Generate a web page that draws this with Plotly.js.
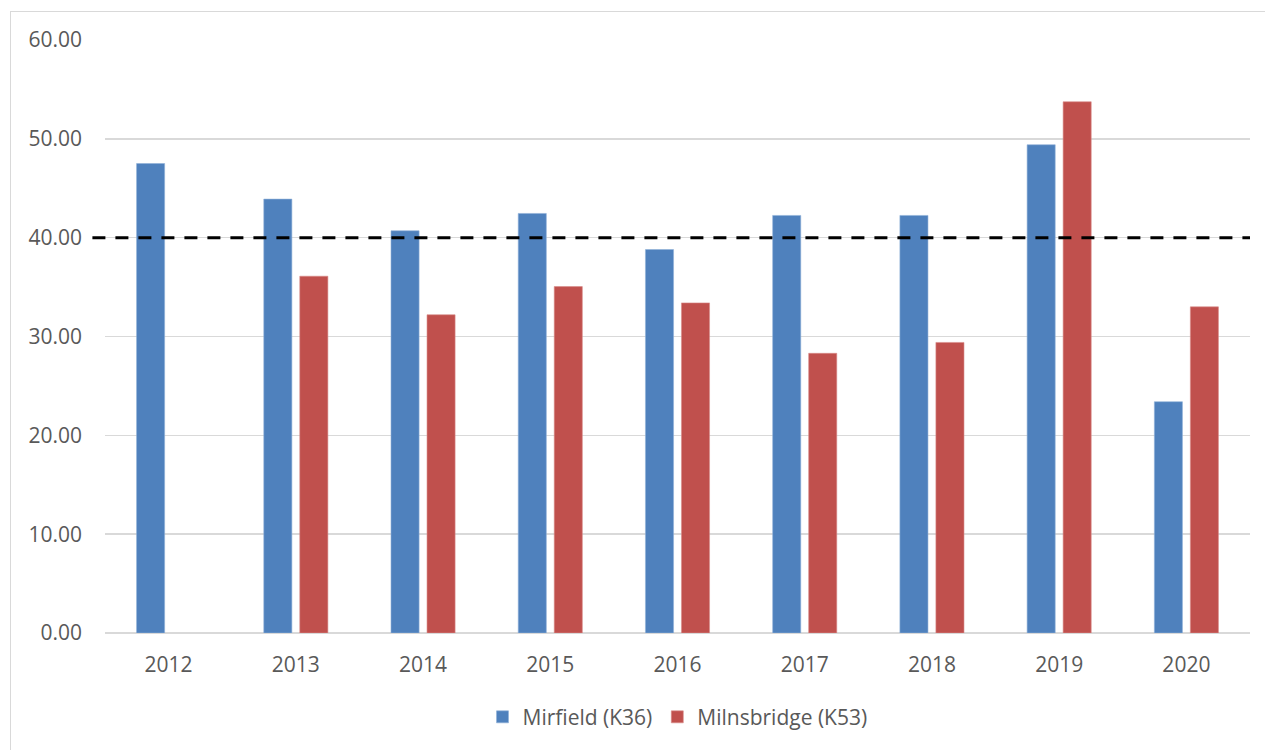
<!DOCTYPE html>
<html>
<head>
<meta charset="utf-8">
<script src="https://cdn.plot.ly/plotly-3.0.1.min.js"></script>
<style>
html,body{margin:0;padding:0;background:#fff;overflow:hidden;}
#wrap{position:relative;width:1265px;height:750px;}
#frame{position:absolute;left:10px;top:11px;width:1270px;height:760px;border:1.5px solid #d9d9d9;box-sizing:border-box;pointer-events:none;z-index:5;}
#chart{position:absolute;left:0;top:0;width:1265px;height:750px;}
</style>
</head>
<body>
<div id="wrap"><div id="chart"></div><div id="frame"></div></div>
<script>
var years = ['2012','2013','2014','2015','2016','2017','2018','2019','2020'];
var mirfield = [47.5, 43.9, 40.7, 42.45, 38.8, 42.25, 42.25, 49.4, 23.4];
var milnsbridge = [null, 36.1, 32.2, 35.05, 33.4, 28.3, 29.4, 53.75, 33.0];
var threshold = 40;
var yTicks = [0, 10, 20, 30, 40, 50, 60];

var fontFam = 'Open Sans, Noto Sans, sans-serif';
var traces = [
  {type:'bar', name:'Mirfield (K36)', x:years, y:mirfield, marker:{color:'#4F81BD', line:{color:'#8fb0d8', width:0.6}}},
  {type:'bar', name:'Milnsbridge (K53)', x:years, y:milnsbridge, marker:{color:'#C0504D', line:{color:'#d98c8a', width:0.6}}}
];
var layout = {
  width:1265, height:750,
  margin:{l:105, r:15, t:40, b:117},
  paper_bgcolor:'#fff', plot_bgcolor:'#fff',
  barmode:'group', bargap:0.434, bargroupgap:0.22,
  font:{family:fontFam, color:'#595959', size:21},
  showlegend:true,
  legend:{orientation:'h', x:0.5, xanchor:'center', y:-0.142, yanchor:'middle', font:{size:21, color:'#595959'}, itemwidth:20, tracegroupgap:0},
  xaxis:{type:'category', showgrid:false, showline:false, zeroline:false, ticks:'', tickfont:{size:21, color:'#595959'}, ticklabelstandoff:17, fixedrange:true},
  yaxis:{range:[0,60], tickvals:yTicks, tickformat:'.2f', showgrid:true, gridcolor:'#d9d9d9', gridwidth:1.6, zeroline:true, zerolinecolor:'#d9d9d9', zerolinewidth:2, showline:false, ticks:'', tickfont:{size:21, color:'#595959'}, ticklabelstandoff:22, fixedrange:true},
  shapes:[{type:'line', xref:'paper', yref:'y', x0:-0.011, x1:1, y0:threshold, y1:threshold, line:{color:'#000', width:3, dash:'13px,10px'}, layer:'above'}]
};
Plotly.newPlot('chart', traces, layout, {displayModeBar:false, staticPlot:true});
</script>
</body>
</html>
